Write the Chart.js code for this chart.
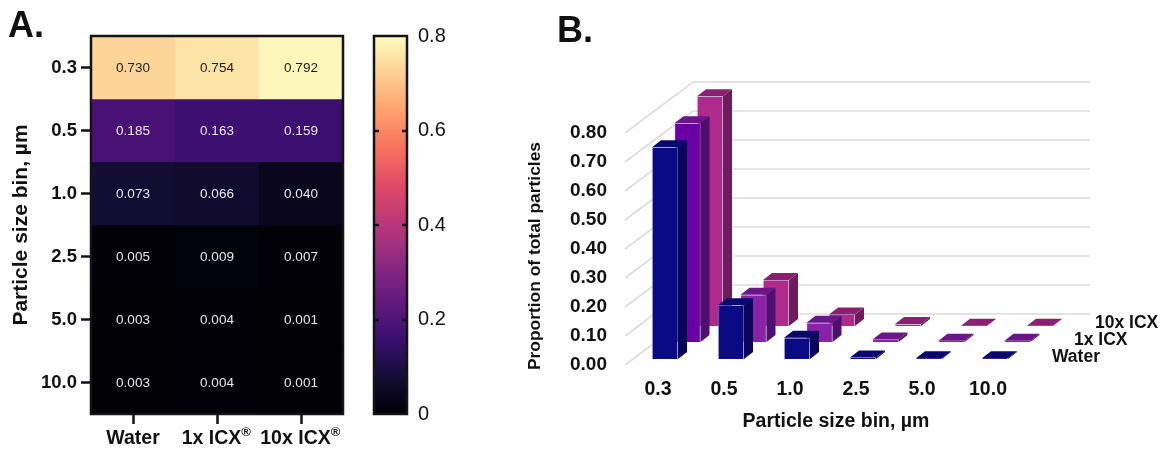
<!DOCTYPE html>
<html>
<head>
<meta charset="utf-8">
<title>Particle size bins</title>
<script src="https://cdn.jsdelivr.net/npm/chart.js@4"></script>
<style>
  html, body { margin: 0; padding: 0; background: #fff; overflow: hidden; }
  canvas { position: absolute; top: 0; }
</style>
</head>
<body>
<canvas id="heat" width="365" height="452" style="left:0"></canvas>
<canvas id="bar" width="100" height="452" style="left:365px"></canvas>
<canvas id="bars3d" width="697" height="452" style="left:465px"></canvas>
<script>
// Datos
var sizeBins = ["0.3", "0.5", "1.0", "2.5", "5.0", "10.0"];
var groups = ["Water", "1x ICX®", "10x ICX®"];
var waterValues = [0.730, 0.185, 0.073, 0.005, 0.003, 0.003];
var icx1Values = [0.754, 0.163, 0.066, 0.009, 0.004, 0.004];
var icx10Values = [0.792, 0.159, 0.040, 0.007, 0.001, 0.001];
var colorbarTicks = [0, 0.2, 0.4, 0.6, 0.8];
var proportionTicks = [0, 0.1, 0.2, 0.3, 0.4, 0.5, 0.6, 0.7, 0.8];

// magma
var magma = ["#000004", "#140e36", "#3b0f70", "#641a80", "#8c2981", "#b73779", "#de4968", "#f7705c", "#fe9f6d", "#fecf92", "#fcfdbf"];

Chart.defaults.font.family = "'Liberation Sans', Arial, sans-serif";
Chart.defaults.color = "#111";
Chart.defaults.animation = false;
Chart.defaults.responsive = false;
Chart.defaults.plugins.legend.display = false;
Chart.defaults.plugins.tooltip.enabled = false;

function hexToRgb(h) {
  return [parseInt(h.substr(1, 2), 16), parseInt(h.substr(3, 2), 16), parseInt(h.substr(5, 2), 16)];
}

function heatColor(v) {
  var t = Math.min(v / 0.8, 1) * (magma.length - 1);
  var i = Math.min(Math.floor(t), magma.length - 2);
  var a = hexToRgb(magma[i]), b = hexToRgb(magma[i + 1]), f = t - i;
  return "rgb(" + a.map(function (c, k) { return Math.round(c + (b[k] - c) * f); }).join(",") + ")";
}

// ---------- A. heatmap ----------
var rowValues = sizeBins.map(function (s, r) {
  return [waterValues[r], icx1Values[r], icx10Values[r]];
});

var heatPlugin = {
  id: "heatText",
  afterDatasetsDraw: function (chart) {
    var c = chart.ctx, area = chart.chartArea;
    c.save();
    c.textAlign = "center";
    c.textBaseline = "middle";
    c.font = "13.5px 'Liberation Sans'";
    rowValues.forEach(function (row, r) {
      chart.getDatasetMeta(r).data.forEach(function (el, i) {
        c.fillStyle = row[i] > 0.5 ? "#1a1a1a" : "#e9e6ee";
        c.fillText(row[i].toFixed(3), el.x, (el.y + el.base) / 2 + 1);
      });
    });
    c.strokeStyle = "#141414";
    c.lineWidth = 2.5;
    c.strokeRect(area.left, area.top, area.right - area.left, area.bottom - area.top);

    // etiquetas con el ® pequeño y subido
    var xs = chart.scales.x;
    c.fillStyle = "#111";
    groups.forEach(function (g, i) {
      var name = g.replace("®", "");
      c.font = "bold 19.5px 'Liberation Sans'";
      var w = c.measureText(name).width;
      var extra = g.indexOf("®") >= 0 ? 11 : 0;
      var x0 = xs.getPixelForTick(i) - (w + extra) / 2;
      c.textAlign = "left";
      c.textBaseline = "alphabetic";
      c.fillText(name, x0, 444);
      if (extra) {
        c.font = "bold 13px 'Liberation Sans'";
        c.fillText("®", x0 + w, 436);
      }
    });
    c.font = "bold 36px 'Liberation Sans'";
    c.fillText("A.", 8, 37);
    c.restore();
  }
};

new Chart(document.getElementById("heat"), {
  type: "bar",
  data: {
    labels: groups,
    datasets: rowValues.map(function (row, r) {
      return {
        label: sizeBins[r],
        data: row.map(function () { return 1; }),
        backgroundColor: row.map(heatColor),
        borderWidth: 0,
        barPercentage: 1,
        categoryPercentage: 1
      };
    })
  },
  options: {
    layout: { padding: { left: 9, right: 22, top: 36, bottom: 0 } },
    scales: {
      x: {
        stacked: true,
        afterFit: function (s) { s.height = 38; },
        grid: { drawOnChartArea: false, offset: false, tickLength: 10, tickColor: "#111", tickWidth: 2.5 },
        border: { display: false },
        ticks: { callback: function () { return ""; } }
      },
      y: {
        stacked: true,
        reverse: true,
        min: 0,
        max: sizeBins.length,
        afterFit: function (s) { s.width = 82; },
        afterBuildTicks: function (s) {
          s.ticks = sizeBins.map(function (b, i) { return { value: i + 0.5 }; });
        },
        title: { display: true, text: "Particle size bin, µm", font: { size: 21, weight: "bold" }, padding: 0 },
        grid: { drawOnChartArea: false, tickLength: 10, tickColor: "#111", tickWidth: 2.5 },
        border: { display: false },
        ticks: {
          padding: 4,
          font: { size: 18.5, weight: "bold" },
          callback: function (v) { return sizeBins[Math.floor(v)]; }
        }
      }
    }
  },
  plugins: [heatPlugin]
});

// ---------- barra de color ----------
var barPlugin = {
  id: "barFrame",
  afterDatasetsDraw: function (chart) {
    var c = chart.ctx, a = chart.chartArea, y = chart.scales.y;
    c.save();
    c.strokeStyle = "#141414";
    c.lineWidth = 2.5;
    c.strokeRect(a.left, a.top, a.right - a.left, a.bottom - a.top);
    colorbarTicks.slice(1, 4).forEach(function (v) {
      var p = Math.round(y.getPixelForValue(v));
      c.beginPath();
      c.moveTo(a.left, p); c.lineTo(a.left + 5, p);
      c.moveTo(a.right - 5, p); c.lineTo(a.right, p);
      c.stroke();
    });
    c.restore();
  }
};

new Chart(document.getElementById("bar"), {
  type: "bar",
  data: {
    labels: [""],
    datasets: [{
      data: [0.8],
      borderWidth: 0,
      barPercentage: 1,
      categoryPercentage: 1,
      backgroundColor: function (ctx) {
        var a = ctx.chart.chartArea;
        if (!a) return "#000";
        var g = ctx.chart.ctx.createLinearGradient(0, a.bottom, 0, a.top);
        magma.forEach(function (col, i) { g.addColorStop(i / (magma.length - 1), col); });
        return g;
      }
    }]
  },
  options: {
    layout: { padding: { left: 9, right: 0, top: 36, bottom: 38 } },
    scales: {
      x: { display: false },
      y: {
        position: "right",
        min: 0,
        max: 0.8,
        afterFit: function (s) { s.width = 58; },
        afterBuildTicks: function (s) {
          s.ticks = colorbarTicks.map(function (v) { return { value: v }; });
        },
        grid: { display: false },
        border: { display: false },
        ticks: {
          padding: 3,
          font: { size: 20 },
          callback: function (v) { return v === 0 ? "0" : v.toFixed(1); }
        }
      }
    }
  },
  plugins: [barPlugin]
});

// ---------- B. barras 3D ----------
var yMax = 1, plotHeight = 290, binWidth = 66;
var wallDx = 68, wallDy = -51, wallEnd = 625;   // wallEnd: fin de las lineas en el canvas
var faceDx = 9, faceDy = -7;

var series3d = [
  { name: "Water", values: waterValues, dx: 7, dy: -6,
    front: ["#0a0a85", "#0a0a85", "#0a0a85", "#0a0a85", "#0a0a85", "#0a0a85"], side: "#08055a", top: "#0a0670" },
  { name: "1x ICX", values: icx1Values, dx: 29.5, dy: -23,
    front: ["#6a00a3", "#8a22a8", "#8a22a8", "#8a22a8", "#8a22a8", "#8a22a8"], side: "#4e1070", top: "#6b1688" },
  { name: "10x ICX", values: icx10Values, dx: 52, dy: -39,
    front: ["#b02a8c", "#b02a8c", "#b02a8c", "#b02a8c", "#b02a8c", "#b02a8c"], side: "#701b60", top: "#8b2072" }
];

var scales3d = {
  x: {
    type: "linear",
    offset: false,
    min: -0.5,
    max: 7.5,
    afterFit: function (s) { s.height = 87; },
    afterBuildTicks: function (s) {
      s.ticks = sizeBins.map(function (b, i) { return { value: i }; });
    },
    grid: { display: false },
    border: { display: false },
    ticks: {
      padding: 5,
      maxRotation: 0,
      autoSkip: false,
      font: { size: 19.5, weight: "bold" },
      callback: function (v) { return sizeBins[v]; }
    }
  },
  y: {
    min: 0,
    max: yMax,
    afterFit: function (s) { s.width = 160; },
    afterBuildTicks: function (s) {
      s.ticks = proportionTicks.map(function (v) { return { value: v }; });
    },
    grid: { display: false },
    border: { display: false },
    ticks: {
      padding: 10,
      font: { size: 19, weight: "bold" },
      callback: function (v) { return v.toFixed(2); }
    }
  }
};

// cada serie tiene sus ejes corridos para dar la profundidad
series3d.forEach(function (s, k) {
  var shiftX = s.dx / binWidth, shiftY = s.dy / plotHeight * yMax;
  scales3d["x" + k] = { type: "linear", display: false, offset: false, min: -0.5 - shiftX, max: 7.5 - shiftX };
  scales3d["y" + k] = { display: false, min: shiftY, max: yMax + shiftY };
});

var wallPlugin = {
  id: "wall3d",
  beforeDatasetsDraw: function (chart) {
    var c = chart.ctx, y = chart.scales.y, left = chart.chartArea.left;
    c.save();
    c.strokeStyle = "#dcdcdc";
    c.lineWidth = 1.6;
    proportionTicks.forEach(function (v) {
      var p = y.getPixelForValue(v);
      c.beginPath();
      c.moveTo(left, p);
      c.lineTo(left + wallDx, p + wallDy);
      c.lineTo(wallEnd, p + wallDy);
      c.stroke();
    });
    c.restore();
  },
  afterDatasetDraw: function (chart, args) {
    var c = chart.ctx, s = series3d[args.index];
    c.save();
    args.meta.data.forEach(function (el) {
      var l = el.x - el.width / 2, r = el.x + el.width / 2;
      c.fillStyle = s.side;
      c.beginPath();
      c.moveTo(r, el.base); c.lineTo(r + faceDx, el.base + faceDy);
      c.lineTo(r + faceDx, el.y + faceDy); c.lineTo(r, el.y);
      c.closePath(); c.fill();
      c.fillStyle = s.top;
      c.beginPath();
      c.moveTo(l, el.y); c.lineTo(l + faceDx, el.y + faceDy);
      c.lineTo(r + faceDx, el.y + faceDy); c.lineTo(r, el.y);
      c.closePath(); c.fill();
    });
    c.restore();
  },
  afterDraw: function (chart) {
    var c = chart.ctx;
    c.save();
    c.fillStyle = "#111";
    c.textBaseline = "middle";
    c.textAlign = "left";
    c.font = "bold 17.5px 'Liberation Sans'";
    c.fillText("10x ICX", 630, 323);
    c.fillText("1x ICX", 609, 340);
    c.fillText("Water", 587, 357);
    c.textAlign = "center";
    c.font = "bold 19.5px 'Liberation Sans'";
    c.fillText("Particle size bin, µm", 371, 422);
    c.save();
    c.translate(70, 256);
    c.rotate(-Math.PI / 2);
    c.font = "bold 17.4px 'Liberation Sans'";
    c.fillText("Proportion of total particles", 0, 0);
    c.restore();
    c.textAlign = "left";
    c.textBaseline = "alphabetic";
    c.font = "bold 36px 'Liberation Sans'";
    c.fillText("B.", 92, 42);
    c.restore();
  }
};

new Chart(document.getElementById("bars3d"), {
  type: "bar",
  data: {
    datasets: series3d.map(function (s, k) {
      return {
        label: s.name,
        xAxisID: "x" + k,
        yAxisID: "y" + k,
        grouped: false,
        barThickness: 26,
        borderWidth: 1,
        borderColor: "rgba(190,170,230,0.45)",
        backgroundColor: s.front,
        data: s.values.map(function (v, i) { return { x: i, y: v }; })
      };
    })
  },
  options: {
    layout: { padding: { left: 0, right: 9, top: 75, bottom: 0 } },
    scales: scales3d
  },
  plugins: [wallPlugin]
});
</script>
</body>
</html>
